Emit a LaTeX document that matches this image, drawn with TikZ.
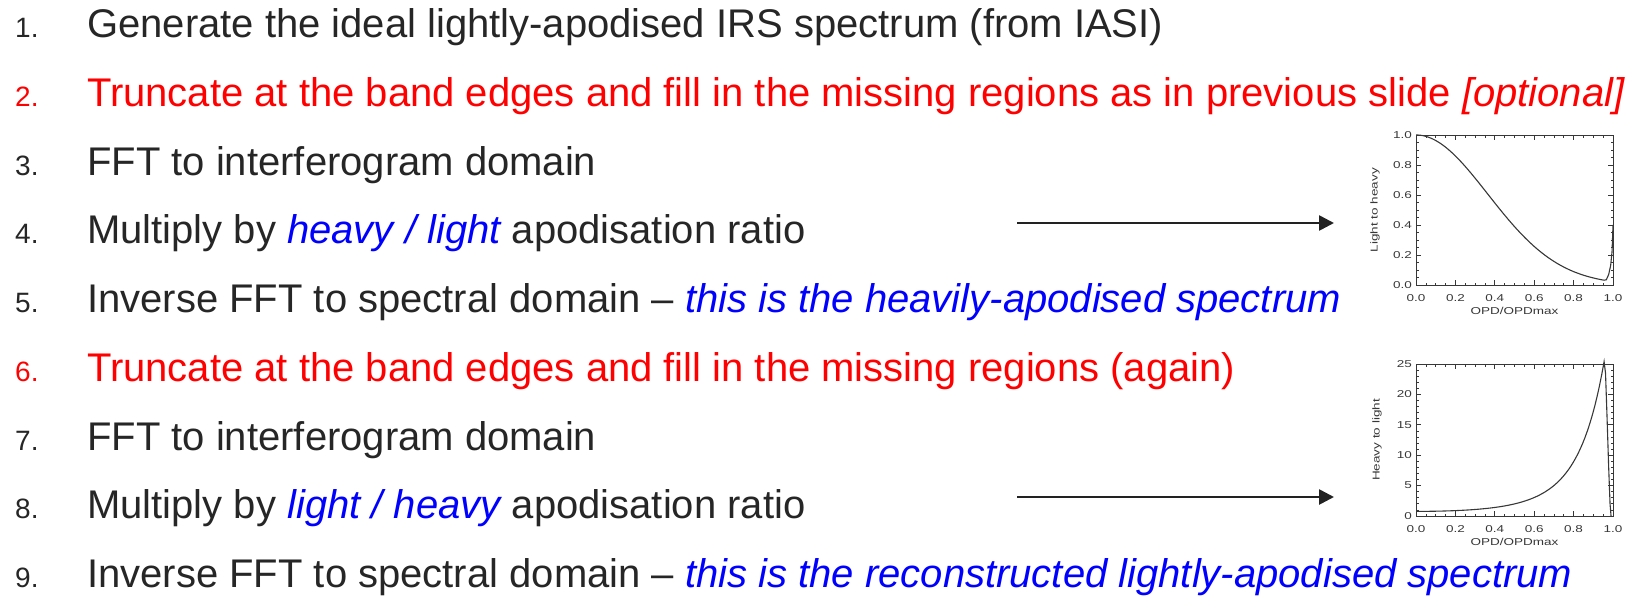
\documentclass[tikz,border=0pt]{standalone}
\usepackage{fontspec}
\setmainfont{Liberation Sans}
\newfontfamily\idlfont[FakeStretch=1.35]{Liberation Sans}
\usetikzlibrary{arrows.meta}
\definecolor{txtgray}{RGB}{38,38,38}
\definecolor{stepred}{RGB}{255,0,0}
\definecolor{stepblue}{RGB}{0,0,255}
\definecolor{arrowgray}{RGB}{34,34,34}
\definecolor{curvegray}{RGB}{55,55,55}
\newcommand{\apo}[1]{\textcolor{stepblue}{\itshape #1}}
\tikzset{
  stepnum/.style={anchor=base west, inner sep=0pt, font=\fontsize{28}{34}\selectfont},
  steptext/.style={anchor=base west, inner sep=0pt, font=\fontsize{40}{48}\selectfont},
  ratioarrow/.style={-{Triangle[length=15pt,width=15pt]}, line width=2.6pt, draw=arrowgray},
  plotframe/.style={line width=0.8pt, draw=curvegray},
  axistick/.style={line width=0.7pt, draw=curvegray},
  ratiocurve/.style={line width=1.1pt, draw=curvegray},
  ticklabel/.style={inner sep=0pt, font=\idlfont\fontsize{10}{12}\selectfont, text=curvegray}
}
\begin{document}
\begin{tikzpicture}[x=1pt, y=-1pt]
    \useasboundingbox (0,0) rectangle (1631,600);
    % numbered steps
    \node[stepnum, text=txtgray] (num1) at (15,37.5) {1.};
    \node[steptext, text=txtgray] (step1) at (87,37.5) {Generate the ideal lightly-apodised IRS spectrum (from IASI)};
    \node[stepnum, text=stepred] (num2) at (15,106.25) {2.};
    \node[steptext, text=stepred] (step2) at (87,106.25) {Truncate at the band edges and fill in the missing regions as in previous slide \textit{[optional]}};
    \node[stepnum, text=txtgray] (num3) at (15,175) {3.};
    \node[steptext, text=txtgray] (step3) at (87,175) {FFT to interferogram domain};
    \node[stepnum, text=txtgray] (num4) at (15,243.75) {4.};
    \node[steptext, text=txtgray] (step4) at (87,243.75) {Multiply by \apo{heavy / light} apodisation ratio};
    \node[stepnum, text=txtgray] (num5) at (15,312.5) {5.};
    \node[steptext, text=txtgray] (step5) at (87,312.5) {Inverse FFT to spectral domain – \apo{this is the heavily-apodised spectrum}};
    \node[stepnum, text=stepred] (num6) at (15,381.25) {6.};
    \node[steptext, text=stepred] (step6) at (87,381.25) {Truncate at the band edges and fill in the missing regions (again)};
    \node[stepnum, text=txtgray] (num7) at (15,450) {7.};
    \node[steptext, text=txtgray] (step7) at (87,450) {FFT to interferogram domain};
    \node[stepnum, text=txtgray] (num8) at (15,518.75) {8.};
    \node[steptext, text=txtgray] (step8) at (87,518.75) {Multiply by \apo{light / heavy} apodisation ratio};
    \node[stepnum, text=txtgray] (num9) at (15,587.5) {9.};
    \node[steptext, text=txtgray] (step9) at (87,587.5) {Inverse FFT to spectral domain – \apo{this is the reconstructed lightly-apodised spectrum}};

    % arrows to the ratio plots
    \coordinate (arrowAstart) at (1017,223);
    \coordinate (arrowAend) at (1334,223);
    \coordinate (arrowBstart) at (1017,497);
    \coordinate (arrowBend) at (1334,497);
    \draw[ratioarrow] (arrowAstart) -- (arrowAend);
    \draw[ratioarrow] (arrowBstart) -- (arrowBend);

    % light to heavy ratio
    \begin{scope}[shift={(1416,285)}, x=197pt, y=150pt]
        \draw[plotframe] (0,0) rectangle (1,1);
        \foreach \k in {1,...,19} {
            \draw[axistick] (\k/20,0) -- ++(0,2.5pt);
            \draw[axistick] (\k/20,1) -- ++(0,-2.5pt);
            \draw[axistick] (0,\k/20) -- ++(2.5pt,0);
            \draw[axistick] (1,\k/20) -- ++(-2.5pt,0);
        }
        \foreach \k in {4,8,12,16} {
            \draw[axistick] (\k/20,0) -- ++(0,5pt);
            \draw[axistick] (\k/20,1) -- ++(0,-5pt);
            \draw[axistick] (0,\k/20) -- ++(5pt,0);
            \draw[axistick] (1,\k/20) -- ++(-5pt,0);
        }
        \foreach \v [count=\i] in {0.0,0.2,0.4,0.6,0.8,1.0} {
            \node[ticklabel, anchor=north, yshift=-9pt] (topx\i) at (\v,0) {\v};
            \node[ticklabel, anchor=east, xshift=-4pt] (topy\i) at (0,\v) {\v};
        }
        \node[ticklabel, anchor=north, yshift=-22.5pt] (topxtitle) at (0.5,0) {OPD/OPDmax};
        \node[ticklabel, rotate=90] (topytitle) at (-0.208,0.5) {Light to heavy};
        \draw[ratiocurve, domain=0:0.955, samples=80, variable=\x] plot ({\x}, {exp(-\x*\x/0.265)})
            -- (0.966,0.035) -- (0.978,0.07) -- (0.988,0.13) -- (0.995,0.22) -- (1,0.4);
    \end{scope}

    % heavy to light ratio
    \begin{scope}[shift={(1416,516)}, x=197pt, y=6.08pt]
        \draw[plotframe] (0,0) rectangle (1,25);
        \foreach \k in {1,...,19} {
            \draw[axistick] (\k/20,0) -- ++(0,2.5pt);
            \draw[axistick] (\k/20,25) -- ++(0,-2.5pt);
        }
        \foreach \k in {4,8,12,16} {
            \draw[axistick] (\k/20,0) -- ++(0,5pt);
            \draw[axistick] (\k/20,25) -- ++(0,-5pt);
        }
        \foreach \k in {1,...,24} {
            \draw[axistick] (0,\k) -- ++(2.5pt,0);
            \draw[axistick] (1,\k) -- ++(-2.5pt,0);
        }
        \foreach \k in {5,10,15,20} {
            \draw[axistick] (0,\k) -- ++(5pt,0);
            \draw[axistick] (1,\k) -- ++(-5pt,0);
        }
        \foreach \v [count=\i] in {0.0,0.2,0.4,0.6,0.8,1.0}
            \node[ticklabel, anchor=north, yshift=-9pt] (botx\i) at (\v,0) {\v};
        \foreach \v [count=\i] in {0,5,10,15,20,25}
            \node[ticklabel, anchor=east, xshift=-4pt] (boty\i) at (0,\v) {\v};
        \node[ticklabel, anchor=north, yshift=-22.5pt] (botxtitle) at (0.5,0) {OPD/OPDmax};
        \node[ticklabel, rotate=90] (botytitle) at (-0.198,12.5) {Heavy to light};
        \draw[ratiocurve, domain=0:0.955, samples=80, variable=\x] plot ({\x}, {0.76*exp(3.85*\x*\x)})
            -- (0.962,23.5) -- (0.97,16) -- (0.978,8) -- (0.985,2) -- (0.99,0);
    \end{scope}
\end{tikzpicture}
\end{document}
